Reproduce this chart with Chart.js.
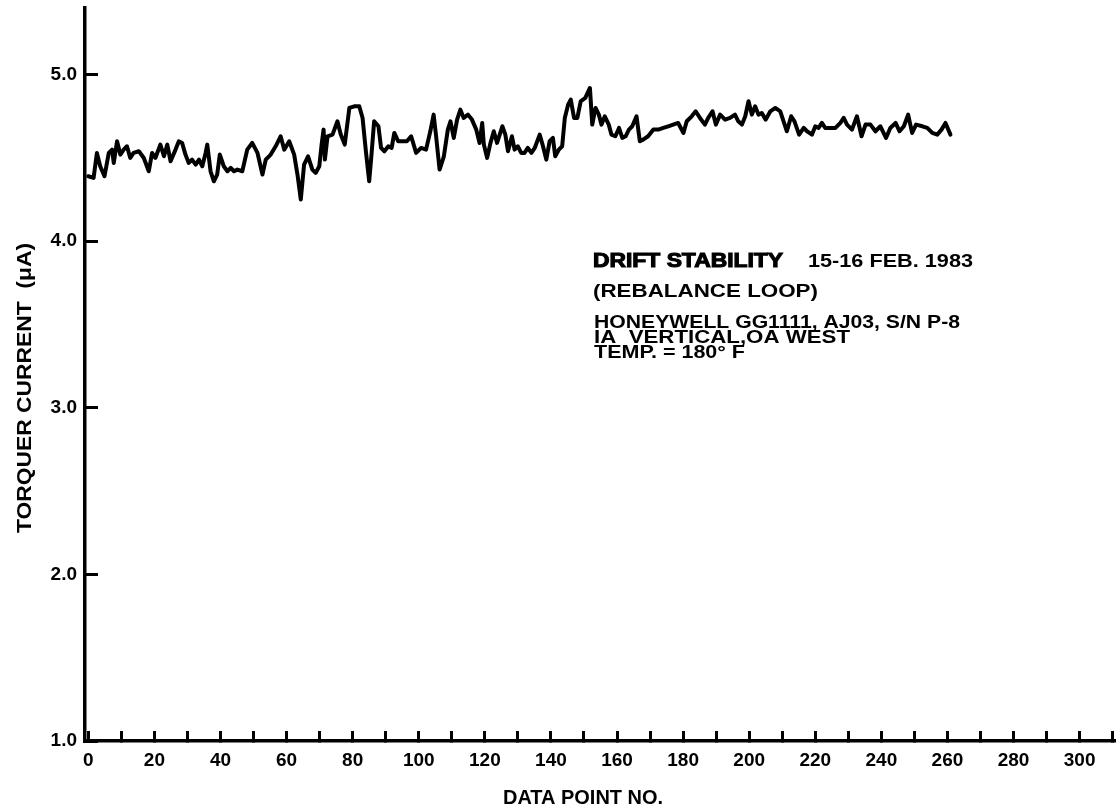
<!DOCTYPE html>
<html>
<head>
<meta charset="utf-8">
<script src="https://cdn.jsdelivr.net/npm/chart.js@4.4.1/dist/chart.umd.min.js"></script>
<style>
  html, body { margin: 0; padding: 0; background: #fff; }
  #wrap { width: 1116px; height: 807px; position: relative; }
</style>
</head>
<body>
<div id="wrap"><canvas id="c"></canvas></div>
<script>
// ---- data ----
const pointNo = [
  0,1.6,2.6,3.6,4.9,6.2,7.2,7.7,8.7,9.7,10.7,11.7,12.7,13.7,15.3,16.8,18.3,19.3,20.3,21.8,
  22.9,23.9,24.9,26.4,27.4,28.4,29.4,30.4,31.4,32.5,33.5,34.5,35.5,36.0,37.0,38.0,39.0,39.8,41.0,42.1,
  43.1,44.1,45.1,46.6,48.1,49.6,51.2,52.7,53.7,55.2,56.7,58.2,59.3,60.8,62.3,63.3,64.3,
  65.3,66.5,67.8,68.8,69.9,70.6,71.2,71.6,72.4,73.9,75.4,76.4,77.6,79.0,80.5,82.0,83.0,84.0,85.0,85.7,
  86.5,87.8,88.6,89.6,90.8,91.8,92.6,93.8,95.1,96.4,97.7,99.2,100.7,102.2,103.5,104.5,105.2,106.3,107.6,108.8,
  109.6,110.6,111.6,112.6,113.6,114.9,116.1,117.4,118.4,119.2,119.7,120.7,121.7,122.7,123.7,125.3,126.2,127.0,128.2,129.0,130.0,
  131.0,132.0,133.0,134.1,135.1,136.6,137.6,138.6,139.6,140.6,141.3,142.4,143.4,144.2,145.2,146.0,147.0,148.0,149.0,150.4,
  151.8,152.5,153.5,154.5,155.3,156.3,157.5,158.3,159.5,160.6,161.6,162.6,163.6,164.6,165.9,166.9,167.9,169.4,171.0,172.5,
  174.0,175.5,177.0,178.5,180.1,181.1,182.6,183.8,185.1,186.6,187.6,188.9,189.9,191.2,192.7,194.2,195.7,196.7,
  197.8,198.8,199.8,200.8,201.8,202.8,203.8,205.0,206.4,207.9,209.4,210.4,211.4,212.7,213.7,215.1,216.5,217.5,219.0,220.0,
  221.0,222.0,223.0,224.6,226.1,227.6,228.6,229.6,231.1,232.6,234.0,235.2,236.7,238.2,239.7,241.4,242.7,244.3,245.5,246.8,
  248.1,249.3,250.5,252.4,253.9,255.4,256.9,258.2,259.4,260.9
];
const torque = [
  4.39,4.38,4.53,4.45,4.39,4.53,4.55,4.47,4.60,4.52,4.55,4.57,4.50,4.53,4.54,4.50,4.42,4.53,4.50,4.58,
  4.51,4.58,4.48,4.55,4.60,4.59,4.52,4.47,4.49,4.46,4.49,4.45,4.53,4.58,4.42,4.36,4.40,4.52,4.45,4.42,
  4.44,4.42,4.43,4.42,4.55,4.59,4.53,4.40,4.49,4.52,4.57,4.63,4.55,4.60,4.52,4.40,4.25,
  4.46,4.51,4.43,4.41,4.45,4.58,4.67,4.49,4.63,4.64,4.72,4.64,4.58,4.80,4.81,4.81,4.74,4.54,4.36,4.52,
  4.72,4.69,4.56,4.54,4.57,4.56,4.65,4.60,4.60,4.60,4.63,4.53,4.56,4.55,4.66,4.76,4.64,4.43,4.51,4.67,
  4.72,4.62,4.73,4.79,4.74,4.76,4.73,4.67,4.59,4.71,4.58,4.50,4.59,4.66,4.59,4.69,4.64,4.54,4.63,4.55,4.57,
  4.53,4.53,4.56,4.53,4.56,4.64,4.57,4.49,4.60,4.62,4.51,4.55,4.57,4.74,4.82,4.85,4.74,4.74,4.84,4.86,
  4.92,4.70,4.80,4.76,4.70,4.75,4.70,4.64,4.63,4.68,4.62,4.63,4.67,4.69,4.75,4.60,4.61,4.63,4.67,4.67,
  4.68,4.69,4.70,4.71,4.65,4.72,4.75,4.78,4.74,4.70,4.74,4.78,4.70,4.76,4.73,4.74,4.76,4.72,
  4.70,4.75,4.84,4.76,4.81,4.76,4.77,4.73,4.78,4.80,4.78,4.72,4.66,4.75,4.72,4.64,4.68,4.66,4.64,4.69,
  4.68,4.71,4.68,4.68,4.68,4.71,4.74,4.70,4.67,4.75,4.63,4.70,4.70,4.66,4.69,4.62,4.68,4.71,4.66,4.69,
  4.76,4.65,4.70,4.69,4.68,4.65,4.64,4.67,4.71,4.64
];
const xTickValues = [0,10,20,30,40,50,60,70,80,90,100,110,120,130,140,150,160,170,180,190,200,210,220,230,240,250,260,270,280,290,300,310];
const xTickLabels = ['0','','20','','40','','60','','80','','100','','120','','140','','160','','180','','200','','220','','240','','260','','280','','300',''];
const yTickValues = [1,2,3,4,5];
const yTickLabels = ['1.0','2.0','3.0','4.0','5.0'];
const xTitle = 'DATA POINT NO.';
const yTitle = 'TORQUER CURRENT  (\u03BCA)';
const noteTitle = 'DRIFT STABILITY';
const noteDate = '15-16 FEB. 1983';
const noteLines = ['(REBALANCE LOOP)', 'HONEYWELL GG1111, AJ03, S/N P-8', 'IA  VERTICAL,OA WEST', 'TEMP. = 180\u00B0 F'];

const FONT = '"Liberation Sans", Arial, Helvetica, sans-serif';

function drawFit(ctx, text, x, y, size, width, align, heavy, rotate) {
  ctx.save();
  ctx.font = 'bold ' + size + 'px ' + FONT;
  const w = ctx.measureText(text).width;
  const s = width / w;
  ctx.translate(x, y);
  if (rotate) ctx.rotate(-Math.PI / 2);
  ctx.scale(s, 1);
  ctx.textAlign = align;
  ctx.textBaseline = rotate ? 'middle' : 'alphabetic';
  ctx.fillStyle = '#000';
  ctx.fillText(text, 0, 0);
  if (heavy) { ctx.strokeStyle = '#000'; ctx.lineWidth = 1.1; ctx.strokeText(text, 0, 0); }
  ctx.restore();
}

const textPlugin = {
  id: 'texts',
  afterDraw(chart) {
    const ctx = chart.ctx;
    drawFit(ctx, noteTitle, 593, 267, 20, 190, 'left', true);
    drawFit(ctx, noteDate, 808, 267, 19, 165, 'left', false);
    drawFit(ctx, noteLines[0], 593, 297, 19, 225, 'left', false);
    drawFit(ctx, noteLines[1], 594, 328, 18, 366, 'left', false);
    drawFit(ctx, noteLines[2], 594, 343, 18, 256, 'left', false);
    drawFit(ctx, noteLines[3], 594, 358, 18, 151, 'left', false);
    drawFit(ctx, xTitle, 583, 804, 20, 160, 'center', false);
    drawFit(ctx, yTitle, 25, 388, 21, 290, 'center', false, true);
  }
};

function zeroPad(scale) {
  scale.paddingTop = 0; scale.paddingBottom = 0; scale.paddingLeft = 0; scale.paddingRight = 0;
}

new Chart(document.getElementById('c'), {
  type: 'line',
  data: {
    datasets: [{
      data: pointNo.map((x, i) => ({ x: x, y: torque[i] })),
      borderColor: '#000',
      borderWidth: 4,
      pointRadius: 0,
      tension: 0,
      fill: false,
      borderJoinStyle: 'round',
      borderCapStyle: 'round'
    }]
  },
  options: {
    responsive: true,
    maintainAspectRatio: false,
    animation: false,
    layout: { padding: { top: 8, right: 0, left: 0, bottom: 0 } },
    plugins: { legend: { display: false }, tooltip: { enabled: false }, title: { display: false } },
    scales: {
      x: {
        type: 'linear',
        position: 'bottom',
        min: -1,
        max: 311,
        border: { display: true, color: '#000', width: 3.5 },
        grid: { display: true, drawOnChartArea: false, drawTicks: true, tickLength: -10, color: '#000', lineWidth: 3 },
        afterBuildTicks(scale) { scale.ticks = xTickValues.map(v => ({ value: v })); },
        afterFit(scale) { scale.height = 66; zeroPad(scale); },
        ticks: {
          autoSkip: false, maxRotation: 0, minRotation: 0, padding: 18, color: '#000',
          font: { family: FONT, size: 19, weight: 'bold' },
          callback(v) { const i = xTickValues.indexOf(v); return i >= 0 ? xTickLabels[i] : ''; }
        }
      },
      y: {
        type: 'linear',
        min: 1,
        max: 5.4,
        border: { display: true, color: '#000', width: 3.5 },
        grid: { display: true, drawOnChartArea: false, drawTicks: true, tickLength: -13, color: '#000', lineWidth: 3 },
        afterBuildTicks(scale) { scale.ticks = yTickValues.map(v => ({ value: v })); },
        afterFit(scale) { scale.width = 85; zeroPad(scale); },
        ticks: {
          padding: 21, color: '#000',
          font: { family: FONT, size: 19, weight: 'bold' },
          callback(v) { const i = yTickValues.indexOf(v); return i >= 0 ? yTickLabels[i] : ''; }
        }
      }
    }
  },
  plugins: [textPlugin]
});
</script>
</body>
</html>
